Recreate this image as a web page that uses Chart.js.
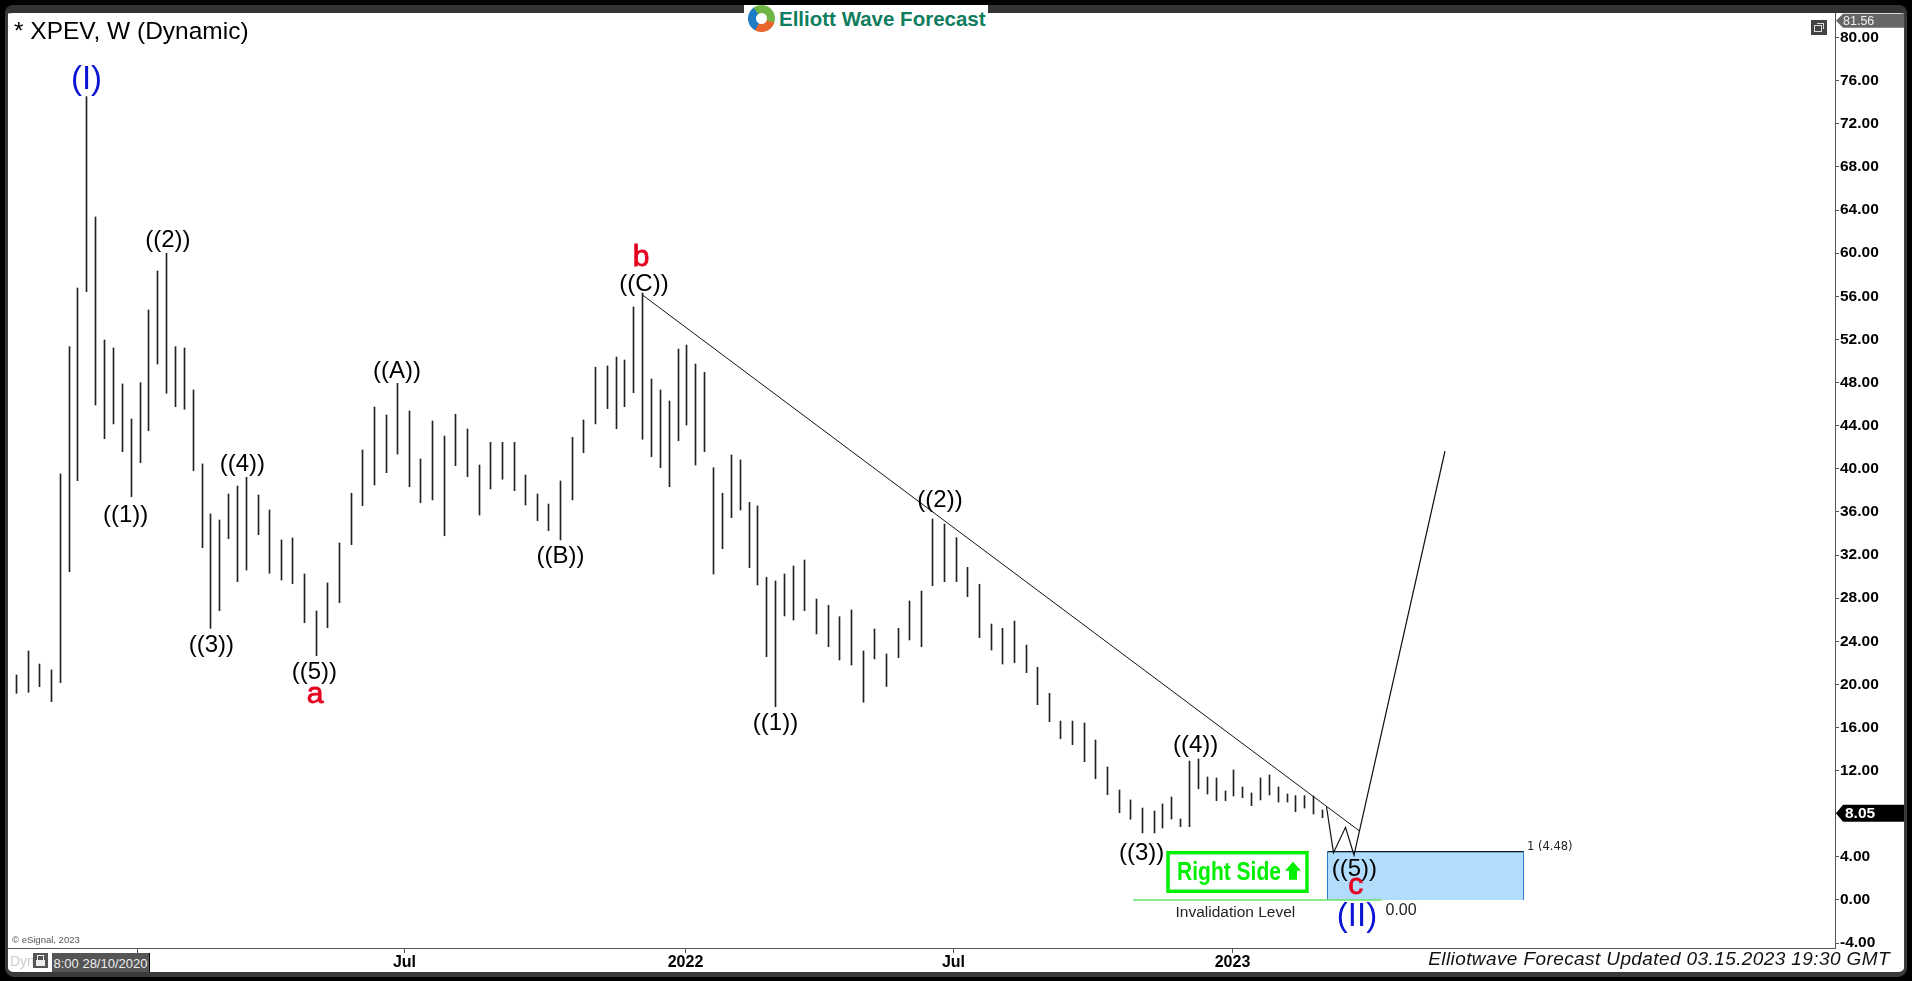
<!DOCTYPE html>
<html>
<head>
<meta charset="utf-8">
<title>XPEV weekly</title>
<script src="https://cdn.jsdelivr.net/npm/chart.js@4"></script>
<style>
	html, body { margin: 0; padding: 0; width: 1912px; height: 981px; background: #000; overflow: hidden; font-family: "Liberation Sans", Arial, sans-serif; }
	#frame { position: absolute; left: 5px; top: 5px; width: 1902px; height: 972px; box-sizing: border-box; background: #fff; border-style: solid; border-color: #3a3a3a; border-width: 8px 3px 5px 3px; border-radius: 9px; }
	#frame::before { content: ""; position: absolute; inset: -8px -3px auto -3px; height: 8px; background: #333; border-radius: 9px 9px 0 0; }
	canvas { position: absolute; left: 0; top: 0; }
	.tag { position: absolute; white-space: nowrap; line-height: 1; }
	#title { left: 14px; top: 19px; font-size: 24.5px; color: #000; }
	#logoBack { left: 744px; top: 5px; width: 244px; height: 28px; background: #fff; }
	#logoMark { left: 748px; top: 5px; width: 27px; height: 27px; border-radius: 50%; background: conic-gradient(#6fb544 0 30%, #e8652b 30% 58%, #1f7cc4 58% 90%, #6fb544 90%); }
	#logoHole { left: 756px; top: 13px; width: 11px; height: 11px; border-radius: 50%; background: #fff; }
	#logoText { left: 779px; top: 9px; font-size: 20.5px; font-weight: bold; color: #0f7d60; }
	#restore { left: 1811px; top: 20px; width: 16px; height: 15px; background: #444; }
	#restore i { position: absolute; left: 3px; top: 5px; width: 6px; height: 5px; border: 1px solid #ddd; }
	#restore b { position: absolute; left: 6px; top: 3px; width: 6px; height: 5px; border: 1px solid #ddd; border-left: 0; border-bottom: 0; }
	#copy { left: 12px; top: 935px; font-size: 9.5px; color: #555; }
	#dyn { left: 10px; top: 954px; font-size: 14px; color: #ccc; }
	#lock { left: 33px; top: 953px; width: 15px; height: 15px; background: #555; }
	#lock i { position: absolute; left: 4px; top: 2px; width: 5px; height: 4px; border: 1px solid #eee; border-bottom: 0; }
	#lock b { position: absolute; left: 3px; top: 7px; width: 9px; height: 6px; background: #eee; }
	#dateTag { left: 52px; top: 953px; width: 98px; height: 19px; padding-top: 4px; box-sizing: border-box; background: #555; color: #eee; font-size: 13px; text-align: center; border-right: 1px solid #000; }
	#updated { right: 22px; top: 949px; font-size: 19px; letter-spacing: 0.4px; font-style: italic; color: #111; }
</style>
</head>
<body>
<div id="frame"></div>
<canvas id="xpevChart" width="1912" height="981"></canvas>
<div class="tag" id="title">* XPEV, W (Dynamic)</div>
<div class="tag" id="logoBack"></div>
<div class="tag" id="logoMark"></div>
<div class="tag" id="logoHole"></div>
<div class="tag" id="logoText">Elliott Wave Forecast</div>
<div class="tag" id="restore"><i></i><b></b></div>
<div class="tag" id="copy">© eSignal, 2023</div>
<div class="tag" id="dyn">Dyn</div>
<div class="tag" id="lock"><i></i><b></b></div>
<div class="tag" id="dateTag">8:00 28/10/2020</div>
<div class="tag" id="updated">Elliotwave Forecast Updated 03.15.2023 19:30 GMT</div>
<script>
// weekly bars, time runs in tenths of a grid step from the Jan 2021 tick
const barTime = [
	-12.1, -10.9, -9.8, -8.6, -7.7, -6.8, -6.0, -5.1, -4.2, -3.3, -2.4, -1.5, -0.6, 0.3, 1.1, 2.0,
	2.9, 3.8, 4.7, 5.6, 6.5, 7.3, 8.2, 9.1, 10.0, 10.9, 12.1, 13.2, 14.4, 15.5, 16.7, 17.9,
	19.0, 20.2, 21.4, 22.5, 23.7, 24.9, 26.0, 27.2, 28.3, 29.5, 30.7, 31.8, 33.0, 34.2, 35.3, 36.5,
	37.7, 38.8, 40.0, 41.1, 42.3, 43.5, 44.6, 45.8, 47.0, 47.9, 48.7, 49.6, 50.5, 51.4, 52.3, 53.2,
	54.1, 54.9, 55.8, 56.7, 57.6, 58.5, 59.4, 60.3, 61.2, 62.0, 62.9, 63.8, 64.7, 65.6, 66.7, 67.9,
	69.1, 70.2, 71.4, 72.6, 73.7, 74.9, 76.1, 77.2, 78.4, 79.5, 80.7, 81.9, 83.0, 84.2, 85.4, 86.5,
	87.7, 88.9, 90.0, 91.2, 92.3, 93.5, 94.7, 95.8, 97.0, 98.2, 99.3, 100.5, 101.7, 102.5, 103.4, 104.3,
	105.2, 106.1, 107.0, 107.9, 108.8, 109.6, 110.5, 111.4, 112.3, 113.2, 114.1, 115.0, 115.8, 116.7, 117.6, 118.5
];
const barHigh = [
	20.87, 23.10, 21.89, 21.34, 39.52, 51.33, 56.77, 74.52, 63.36, 51.95, 51.21, 47.87, 44.62, 47.99, 54.73, 58.35,
	59.99, 51.33, 51.21, 47.31, 40.45, 35.81, 35.25, 37.66, 38.40, 39.21, 37.57, 36.18, 33.40, 33.58, 30.24, 26.81,
	29.41, 33.12, 37.73, 41.74, 45.73, 44.99, 47.93, 45.36, 40.91, 44.43, 43.04, 45.06, 43.69, 40.35, 42.46, 42.46,
	42.46, 39.42, 37.66, 36.73, 38.87, 42.92, 44.53, 49.42, 49.54, 50.37, 50.09, 55.01, 56.31, 48.33, 47.31, 46.29,
	51.11, 51.48, 49.72, 48.95, 40.10, 37.73, 41.28, 40.82, 36.89, 36.55, 29.94, 29.59, 30.24, 30.98, 31.54, 27.92,
	27.34, 26.28, 26.90, 23.10, 25.14, 22.82, 25.20, 27.74, 28.66, 35.34, 34.88, 33.61, 30.86, 29.29, 25.60, 25.20,
	25.88, 23.65, 21.59, 19.17, 16.60, 16.60, 16.42, 14.84, 12.34, 10.20, 9.28, 8.53, 8.26, 8.91, 9.55, 7.51,
	12.89, 13.08, 11.41, 11.32, 10.11, 12.06, 10.48, 9.93, 11.32, 11.60, 10.48, 9.83, 9.68, 9.68, 9.65, 8.35
];
const barLow = [
	19.17, 19.27, 19.79, 18.40, 20.16, 30.45, 38.90, 56.43, 45.92, 42.79, 44.16, 41.59, 37.41, 40.57, 43.53, 49.72,
	47.00, 45.76, 45.52, 39.82, 32.68, 25.20, 26.84, 33.52, 29.53, 30.61, 33.89, 30.31, 29.68, 29.34, 25.72, 22.66,
	25.26, 27.58, 32.96, 36.58, 38.50, 39.64, 41.37, 38.34, 36.85, 37.11, 33.79, 40.29, 39.27, 35.71, 38.13, 39.03,
	37.97, 36.64, 35.19, 34.26, 33.40, 37.11, 41.49, 44.16, 45.58, 43.72, 45.76, 47.06, 42.74, 41.12, 40.10, 38.34,
	42.61, 44.06, 40.35, 41.59, 30.24, 32.59, 35.46, 36.18, 30.83, 29.22, 22.57, 17.93, 26.35, 25.97, 26.84, 24.68,
	23.50, 22.26, 21.80, 18.34, 22.36, 19.81, 22.48, 24.12, 23.50, 29.16, 29.53, 29.53, 28.14, 24.33, 23.19, 21.89,
	22.01, 21.09, 18.12, 16.54, 14.96, 14.41, 12.83, 11.25, 9.77, 8.10, 7.49, 6.22, 6.22, 6.68, 7.51, 6.80,
	6.80, 10.32, 9.83, 9.21, 9.21, 9.65, 9.49, 8.75, 9.28, 9.74, 9.09, 9.09, 8.19, 8.53, 7.98, 7.63
];

const xTickValues = [0, 26.7, 54.8, 81.6, 109.5];
const xTickLabels = ["", "Jul", "2022", "Jul", "2023"];
const yTickValues = [-4, 0, 4, 8, 12, 16, 20, 24, 28, 32, 36, 40, 44, 48, 52, 56, 60, 64, 68, 72, 76, 80];

// drawn lines
const trendX = [50.5, 122.2];
const trendY = [56.12, 6.4];
const projectionX = [118.9, 119.6, 120.8, 121.65, 130.75];
const projectionY = [8.65, 4.39, 6.74, 4.17, 41.65];
const zoneX = [119, 138.6];
const zoneTop = 4.48;
const invalidationX = [99.55, 124.4];
const invalidationLevel = 0;
const lastPrice = 8.05;
const chartHigh = 81.56;

// wave labels
const waveText = ["(I)", "((1))", "((2))", "((3))", "((4))", "((5))", "a", "((A))", "((B))", "((C))", "b", "((1))", "((2))", "((3))", "((4))", "((5))", "c", "(II)"];
const waveX = [-5.1, -1.18, 3.03, 7.39, 10.49, 17.68, 17.75, 25.95, 42.29, 50.65, 50.35, 63.8, 80.25, 100.42, 105.82, 121.68, 121.82, 121.95];
const waveY = [76.07, 35.71, 61.22, 23.65, 40.41, 21.08, 19.07, 49.07, 31.9, 57.11, 59.6, 16.41, 37.07, 4.32, 14.34, 2.84, 1.3, -1.55];

const FONT = '"Liberation Sans", Arial, sans-serif';

const pairs = (xs, ys) => xs.map((x, i) => ({ x, y: ys[i] }));

// everything that sits on top of the bars: labels, price tags, the Right Side box
const overlay = {
	id: "overlay",
	afterDatasetsDraw(chart) {
		const { ctx, scales: { x, y } } = chart;
		ctx.save();
		ctx.textAlign = "center";
		ctx.textBaseline = "middle";

		waveText.forEach((text, i) => {
			const px = x.getPixelForValue(waveX[i]), py = y.getPixelForValue(waveY[i]);
			if (text.startsWith("((")) {
				ctx.font = `24px ${FONT}`;
				ctx.fillStyle = "#000";
				ctx.fillText(text, px, py);
			} else if (text.startsWith("(")) {
				ctx.font = `33px ${FONT}`;
				ctx.fillStyle = "#0a14d2";
				ctx.fillText(text, px, py);
			} else {
				// red wave letters are a touch heavier than a regular face
				ctx.font = `30px ${FONT}`;
				ctx.fillStyle = "#e6001e";
				ctx.strokeStyle = "#e6001e";
				ctx.lineWidth = 0.8;
				ctx.fillText(text, px, py);
				ctx.strokeText(text, px, py);
			}
		});

		ctx.textAlign = "left";
		ctx.fillStyle = "#222";
		ctx.font = `11.5px "DejaVu Sans"`;
		ctx.fillText("1 (4.48)", x.getPixelForValue(zoneX[1]) + 3.5, y.getPixelForValue(zoneTop) - 5);
		ctx.font = `16px ${FONT}`;
		ctx.fillText("0.00", x.getPixelForValue(124.8), y.getPixelForValue(-1));
		ctx.font = `15.5px ${FONT}`;
		ctx.fillText("Invalidation Level", x.getPixelForValue(103.8), y.getPixelForValue(-1.15), 121);

		// Right Side box
		const left = x.getPixelForValue(103.05), right = x.getPixelForValue(116.95);
		const top = y.getPixelForValue(4.39), bottom = y.getPixelForValue(0.81);
		ctx.strokeStyle = "#00f000";
		ctx.lineWidth = 3.5;
		ctx.strokeRect(left, top, right - left, bottom - top);
		ctx.fillStyle = "#00f000";
		ctx.font = `bold 25px ${FONT}`;
		ctx.fillText("Right Side", left + 9, (top + bottom) / 2 + 1, 104);
		const ax = left + 125, ay = top + 9;
		ctx.beginPath();
		ctx.moveTo(ax, ay);
		ctx.lineTo(ax + 8, ay + 9);
		ctx.lineTo(ax + 4, ay + 9);
		ctx.lineTo(ax + 4, ay + 18);
		ctx.lineTo(ax - 4, ay + 18);
		ctx.lineTo(ax - 4, ay + 9);
		ctx.lineTo(ax - 8, ay + 9);
		ctx.closePath();
		ctx.fill();

		// price tags on the axis
		const tag = (value, text, color, textColor, font, h, pad) => {
			const py = y.getPixelForValue(value), px = x.right;
			ctx.fillStyle = color;
			ctx.beginPath();
			ctx.moveTo(px + 1, py);
			ctx.lineTo(px + 8, py - h / 2);
			ctx.lineTo(1904, py - h / 2);
			ctx.lineTo(1904, py + h / 2);
			ctx.lineTo(px + 8, py + h / 2);
			ctx.closePath();
			ctx.fill();
			ctx.fillStyle = textColor;
			ctx.font = font;
			ctx.fillText(text, px + pad, py + 1);
		};
		tag(chartHigh, chartHigh.toFixed(2), "#666", "#f0f0f0", `12.5px ${FONT}`, 14, 8);
		tag(lastPrice, lastPrice.toFixed(2), "#000", "#fff", `bold 15.5px ${FONT}`, 17, 10);
		ctx.restore();
	}
};

new Chart(document.getElementById("xpevChart"), {
	type: "bar",
	plugins: [overlay],
	data: {
		datasets: [
			{
				data: barTime.map((t, i) => ({ x: t, y: [barLow[i], barHigh[i]] })),
				backgroundColor: "#222",
				barThickness: 1,
				borderWidth: 0,
				order: 3
			},
			{
				// fib zone
				type: "line",
				data: pairs([zoneX[0], zoneX[0], zoneX[1], zoneX[1]], [0, zoneTop, zoneTop, 0]),
				borderColor: "#2f7fc8",
				borderWidth: 1,
				backgroundColor: "#b1dcfc",
				fill: { value: 0 },
				pointRadius: 0,
				order: 4
			},
			{
				type: "line",
				data: pairs(zoneX, [zoneTop, zoneTop]),
				borderColor: "#000",
				borderWidth: 1,
				pointRadius: 0,
				order: 2
			},
			{
				type: "line",
				data: pairs(invalidationX, [invalidationLevel, invalidationLevel]),
				borderColor: "#66e066",
				borderWidth: 1.5,
				pointRadius: 0,
				order: 2
			},
			{
				type: "line",
				data: pairs(trendX, trendY),
				borderColor: "#111",
				borderWidth: 1,
				pointRadius: 0,
				order: 1
			},
			{
				type: "line",
				data: pairs(projectionX, projectionY),
				borderColor: "#111",
				borderWidth: 1.2,
				pointRadius: 0,
				order: 1
			}
		]
	},
	options: {
		responsive: false,
		animation: false,
		events: [],
		layout: { padding: { left: 8, top: 13, right: 8, bottom: 9 } },
		plugins: {
			legend: { display: false },
			tooltip: { enabled: false }
		},
		scales: {
			x: {
				type: "linear",
				offset: false,
				min: -12.95,
				max: 169.75,
				afterBuildTicks: scale => { scale.ticks = xTickValues.map(value => ({ value })); },
				afterFit: scale => { scale.height = 24; },
				grid: { offset: false, drawOnChartArea: false, tickLength: 5, tickColor: "#555" },
				border: { color: "#555" },
				ticks: {
					autoSkip: false,
					maxRotation: 0,
					padding: 0,
					color: "#000",
					font: { family: FONT, size: 16, weight: "bold" },
					callback: value => xTickLabels[xTickValues.indexOf(value)]
				}
			},
			y: {
				position: "right",
				min: -4.453,
				max: 82.28,
				afterBuildTicks: scale => { scale.ticks = yTickValues.map(value => ({ value })); },
				afterFit: scale => { scale.width = 69; },
				grid: { drawOnChartArea: false, tickLength: 4, tickColor: "#555" },
				border: { color: "#555" },
				ticks: {
					autoSkip: false,
					padding: 1,
					color: "#000",
					font: { family: FONT, size: 15.5, weight: "bold" },
					callback: value => value.toFixed(2)
				}
			}
		}
	}
});
</script>
</body>
</html>
